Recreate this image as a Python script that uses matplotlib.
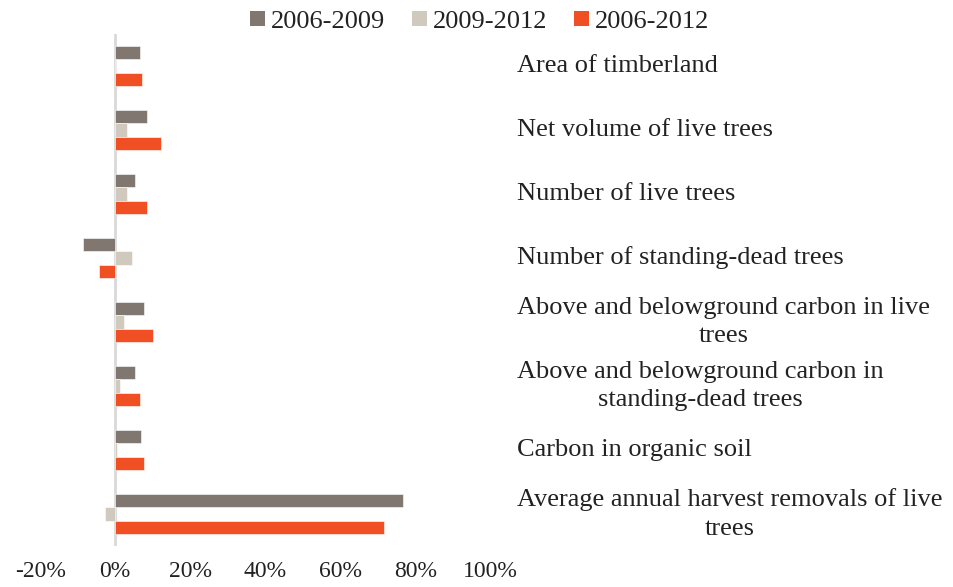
import numpy as np
import matplotlib.pyplot as plt
from matplotlib.patches import Patch

# category labels (wrapped as in the original figure)
categories = [
    "Area of timberland",
    "Net volume of live trees",
    "Number of live trees",
    "Number of standing-dead trees",
    "Above and belowground carbon in live\ntrees",
    "Above and belowground carbon in\nstanding-dead trees",
    "Carbon in organic soil",
    "Average annual harvest removals of live\ntrees",
]
series_names = ["2006-2009", "2009-2012", "2006-2012"]

# percent change values
chg_2006_2009 = [6.7, 8.5, 5.2, -8.5, 7.6, 5.3, 7.0, 76.6]
chg_2009_2012 = [0.3, 3.3, 3.2, 4.6, 2.4, 1.3, 0.6, -2.7]
chg_2006_2012 = [7.2, 12.1, 8.4, -4.3, 10.1, 6.6, 7.7, 71.7]

colors = ["#807870", "#D0C9BE", "#F04E23"]
xticks = [-20, 0, 20, 40, 60, 80, 100]

plt.rcParams['font.family'] = ['Liberation Serif', 'DejaVu Serif']

fig = plt.figure(figsize=(9.54, 5.87), dpi=100)
ax = fig.add_axes([0.042, 0.070, 0.472, 0.872])

y = np.arange(len(categories))
h = 0.21
series = [chg_2006_2009, chg_2009_2012, chg_2006_2012]
for i, (vals, col) in enumerate(zip(series, colors)):
    ax.barh(y + (i - 1) * h, vals, height=h, color=col, edgecolor='white', linewidth=0.4)

ax.set_xlim(-20, 100)
ax.set_ylim(len(categories) - 0.5, -0.5)
ax.axvline(0, color='#D9D9D9', linewidth=2, zorder=0)

ax.set_xticks(xticks)
ax.set_xticklabels([f"{t}%" for t in xticks], fontsize=17, color='#222222')
ax.tick_params(axis='x', length=0, pad=11)
ax.set_yticks([])
for s in ax.spines.values():
    s.set_visible(False)

trans = ax.get_yaxis_transform()
for yi, lab in zip(y, categories):
    ax.text(1.06, yi, lab, transform=trans, ha='left', va='center',
            multialignment='center', fontsize=19, color='#222222',
            linespacing=1.38, clip_on=False)

handles = [Patch(facecolor=c, edgecolor='none') for c in colors]
fig.legend(handles, series_names, loc='center', bbox_to_anchor=(0.503, 0.963),
           ncol=3, frameon=False, fontsize=19, handlelength=0.55, handleheight=0.55,
           handletextpad=0.25, columnspacing=1.0, labelcolor='#222222')

fig.savefig('out.png', dpi=100)
